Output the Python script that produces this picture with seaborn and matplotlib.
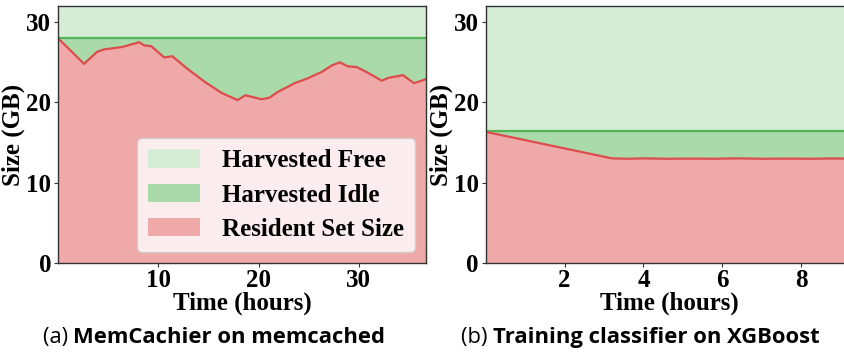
import numpy as np
import pandas as pd
import matplotlib
matplotlib.use("Agg")
import matplotlib.pyplot as plt
import seaborn as sns
from matplotlib.patches import Patch

# ---- data ----
mc_time = [0.0, 2.6, 3.9, 4.6, 6.4, 8.1, 8.6, 9.3, 10.6, 11.4, 12.9, 14.6, 16.3,
           17.9, 18.7, 20.3, 21.1, 21.9, 23.6, 24.9, 26.3, 27.3, 28.1, 28.9,
           29.8, 30.9, 32.3, 32.9, 34.4, 35.5, 36.7]
mc_rss = [28.0, 24.8, 26.3, 26.6, 26.9, 27.5, 27.1, 27.0, 25.6, 25.75, 24.2, 22.6,
          21.2, 20.3, 20.9, 20.4, 20.6, 21.3, 22.4, 23.0, 23.8, 24.6, 25.0, 24.5,
          24.4, 23.7, 22.7, 23.05, 23.4, 22.4, 22.9]
mc_total = 28.0

xg_time = [0.0, 3.2, 3.6, 4.0, 4.6, 5.2, 5.8, 6.4, 7.0, 7.6, 8.2, 8.8, 9.4]
xg_rss = [16.35, 13.05, 13.0, 13.05, 13.0, 13.02, 13.0, 13.05, 13.0, 13.02, 13.0, 13.04, 13.0]
xg_total = 16.4

y_max = 32
y_ticks = [0, 10, 20, 30]
mc_xticks = [10, 20, 30]
xg_xticks = [2, 4, 6, 8]
legend_labels = ["Harvested Free", "Harvested Idle", "Resident Set Size"]
captions = [("(a) ", "MemCachier on memcached"), ("(b) ", "Training classifier on XGBoost")]

# ---- style ----
sns.set_style("ticks")
plt.rcParams["font.family"] = ["Liberation Serif", "DejaVu Serif"]
plt.rcParams["font.weight"] = "bold"
for k in ["text.color", "axes.labelcolor", "xtick.color", "ytick.color"]:
    plt.rcParams[k] = "black"

c_free = "#d5edd5"
c_idle = "#aad9aa"
c_rss = "#efa9a9"
c_rss_line = "#dd4c4c"
c_tot_line = "#55b455"
FS = 18

fig = plt.figure(figsize=(8.44, 3.53), dpi=100)
W, H = 844, 353
ax1 = fig.add_axes([58 / W, 1 - 263.3 / H, (426 - 58) / W, (263.3 - 6) / H])
ax2 = fig.add_axes([485.7 / W, 1 - 263.3 / H, (853.7 - 485.7) / W, (263.3 - 6) / H])

def draw(ax, t, rss, total, xmax, xticks):
    df = pd.DataFrame({"t": t, "rss": rss, "total": [total] * len(t)})
    ax.fill_between(df["t"], 0, y_max, color=c_free, lw=0)
    ax.fill_between(df["t"], df["rss"], df["total"], color=c_idle, lw=0)
    ax.fill_between(df["t"], 0, df["rss"], color=c_rss, lw=0)
    sns.lineplot(data=df, x="t", y="total", ax=ax, color=c_tot_line, lw=1.6)
    sns.lineplot(data=df, x="t", y="rss", ax=ax, color=c_rss_line, lw=1.6)
    ax.set_xlim(0, xmax)
    ax.set_ylim(0, y_max)
    ax.set_xticks(xticks)
    ax.set_yticks(y_ticks)
    ax.tick_params(labelsize=FS, length=3, width=0.8, color="#333333")
    ax.tick_params(axis="x", pad=1)
    ax.tick_params(axis="y", pad=2)
    for lab in ax.get_xticklabels() + ax.get_yticklabels():
        lab.set_fontweight("bold")
    ax.set_xlabel("Time (hours)", fontsize=FS, fontweight="bold", labelpad=0)
    ax.set_ylabel("Size (GB)", fontsize=FS, fontweight="bold", labelpad=0.5)
    for s in ax.spines.values():
        s.set_color("#333333")
        s.set_linewidth(1.0)

draw(ax1, mc_time, mc_rss, mc_total, 36.7, mc_xticks)
draw(ax2, xg_time, xg_rss, xg_total, 9.33, xg_xticks)

handles = [Patch(color=c_free, lw=0), Patch(color=c_idle, lw=0), Patch(color=c_rss, lw=0)]
leg = ax1.legend(handles, legend_labels, loc="lower right", fontsize=FS,
                 handlelength=2.1, handleheight=0.76, handletextpad=0.85,
                 labelspacing=0.45, borderpad=0.45, framealpha=0.8,
                 borderaxespad=0.45)
for txt in leg.get_texts():
    txt.set_fontweight("bold")

# captions
cap_fam = ["Open Sans", "DejaVu Sans"]
for cx, (pre, main) in zip([214 / W, 640 / W], captions):
    t1 = fig.text(0, 0, pre, fontsize=15.8, family=cap_fam, fontweight="normal")
    t2 = fig.text(0, 0, main, fontsize=15.8, family=cap_fam, fontweight="bold")
    fig.canvas.draw()
    r = fig.canvas.get_renderer()
    w1 = t1.get_window_extent(r).width / W
    w2 = t2.get_window_extent(r).width / W
    x0 = cx - (w1 + w2) / 2
    yb = 1 - 343 / H
    t1.set_position((x0, yb))
    t2.set_position((x0 + w1, yb))

fig.savefig("out.png", dpi=100)
